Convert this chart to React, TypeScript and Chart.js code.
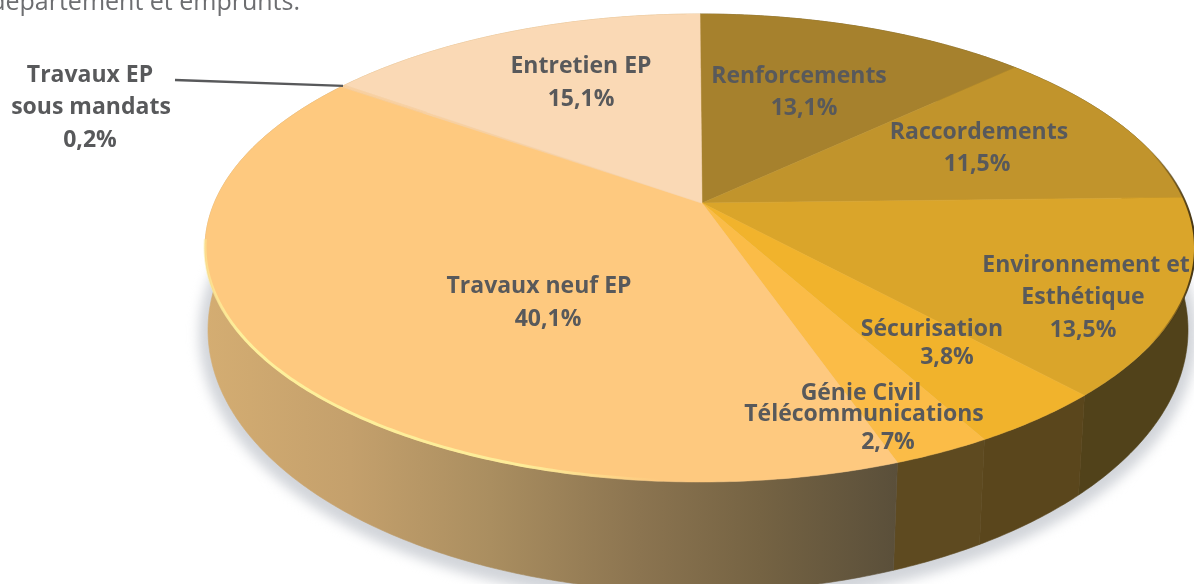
import React, { useEffect, useRef } from "react";
import { Chart, registerables } from "chart.js";

Chart.register(...registerables);

const categories = [
  "Renforcements",
  "Raccordements",
  "Environnement et\nEsthétique",
  "Sécurisation",
  "Génie Civil\nTélécommunications",
  "Travaux neuf EP",
  "Travaux EP\nsous mandats",
  "Entretien EP",
];
const shares = [13.1, 11.5, 13.5, 3.8, 2.7, 40.1, 0.2, 15.1];
const topColors = ["#a6812d", "#c1942c", "#daa52a", "#f1b32c", "#fbbc47", "#fec97f", "#f8d0a0", "#fad9b5"];
const wallColors = ["#6f5a20", "#5a4a1c", "#51421a", "#5a461c", "#5e4a20", "#8a7350", "#d4ad72", "#d4ad72"];
const neufWallStops: [number, string][] = [
  [205, "#d4ad72"],
  [350, "#c4a06c"],
  [490, "#aa8e60"],
  [640, "#8b7450"],
  [760, "#756343"],
  [897, "#5a4f3a"],
];
// [x, y] of the centre of each text line, one list per slice
const labelAnchors: [number, number][][] = [
  [[799, 76], [804, 108]],
  [[979, 132], [977, 164]],
  [[1086, 265], [1083, 297], [1083, 330]],
  [[932, 329], [947, 357]],
  [[861, 393], [864, 414], [888, 442]],
  [[539, 286], [548, 319]],
  [[90, 75], [91, 107], [90, 140]],
  [[581, 66], [581, 99]],
];
const introText = "département et emprunts.";

const TOP = { cx: 700, cy: 248, a: 495, b: 234 };
const BOTTOM = { cx: 698, cy: 330, a: 490, b: 262 };
const APEX_SHIFT = -0.192;
const TEXT = "#58595b";
const FONT = '"Open Sans"';

// Perspective map of the unit circle on itself, moving its centre to the apex.
function project(t: number) {
  const u = Math.cos(t);
  const v = Math.sin(t);
  const s = APEX_SHIFT;
  const d = 1 + s * v;
  return { u: (u * Math.sqrt(1 - s * s)) / d, v: (v + s) / d };
}
const on = (e: typeof TOP, t: number) => {
  const p = project(t);
  return { x: e.cx + e.a * p.u, y: e.cy + e.b * p.v };
};
function samples(a: number, b: number) {
  const n = Math.max(2, Math.ceil((b - a) / 0.01));
  const out: number[] = [];
  for (let i = 0; i <= n; i++) out.push(a + ((b - a) * i) / n);
  return out;
}

const piePlugin = {
  id: "perspectivePie",
  beforeDatasetDraw(chart: any) {
    const { ctx } = chart;
    const arcs = chart.getDatasetMeta(0).data as any[];

    // soft ground shadow
    ctx.save();
    ctx.filter = "blur(6px)";
    ctx.fillStyle = "#d2d5da";
    ctx.beginPath();
    ctx.ellipse(BOTTOM.cx, BOTTOM.cy + 4, BOTTOM.a + 9, BOTTOM.b + 9, 0, 0, Math.PI * 2);
    ctx.fill();
    ctx.restore();

    // walls
    arcs.forEach((arc, i) => {
      const ts = samples(arc.startAngle, arc.endAngle);
      ctx.beginPath();
      ts.forEach((t, k) => {
        const p = on(TOP, t);
        k ? ctx.lineTo(p.x, p.y) : ctx.moveTo(p.x, p.y);
      });
      [...ts].reverse().forEach((t) => {
        const p = on(BOTTOM, t);
        ctx.lineTo(p.x, p.y);
      });
      ctx.closePath();
      let fill: any = wallColors[i];
      if (i === 5) {
        const g = ctx.createLinearGradient(205, 0, 897, 0);
        neufWallStops.forEach(([x, c]) => g.addColorStop((x - 205) / 692, c));
        fill = g;
      }
      ctx.fillStyle = fill;
      ctx.strokeStyle = fill;
      ctx.lineWidth = 0.6;
      ctx.fill();
      ctx.stroke();
    });

    // top faces
    const apex = { x: TOP.cx + 2, y: TOP.cy + TOP.b * APEX_SHIFT };
    arcs.forEach((arc, i) => {
      ctx.beginPath();
      ctx.moveTo(apex.x, apex.y);
      samples(arc.startAngle, arc.endAngle).forEach((t) => {
        const p = on(TOP, t);
        ctx.lineTo(p.x, p.y);
      });
      ctx.closePath();
      ctx.fillStyle = topColors[i];
      ctx.strokeStyle = topColors[i];
      ctx.lineWidth = 0.5;
      ctx.fill();
      ctx.stroke();
    });

    // bright rim on the large slice
    const big = arcs[5];
    const rim = ctx.createLinearGradient(205, 0, 660, 0);
    rim.addColorStop(0, "rgba(253,240,155,0.5)");
    rim.addColorStop(0.08, "rgba(253,240,155,1)");
    rim.addColorStop(0.7, "rgba(253,240,155,0.9)");
    rim.addColorStop(1, "rgba(253,240,155,0)");
    ctx.beginPath();
    samples(big.startAngle, big.endAngle).forEach((t) => {
      const p = on(TOP, t);
      if (p.y < 240 && p.x < 400) return;
      ctx.lineTo(p.x, p.y - 1);
    });
    ctx.strokeStyle = rim;
    ctx.lineWidth = 3;
    ctx.stroke();

    // dark rim on the far right
    const dark = ctx.createLinearGradient(1150, 0, 1192, 0);
    dark.addColorStop(0, "rgba(60,45,15,0)");
    dark.addColorStop(1, "rgba(60,45,15,0.9)");
    ctx.beginPath();
    samples(arcs[1].startAngle, arcs[2].endAngle).forEach((t) => {
      const p = on(TOP, t);
      if (p.x > 1150) ctx.lineTo(p.x, p.y);
    });
    ctx.strokeStyle = dark;
    ctx.lineWidth = 2;
    ctx.stroke();
    return false;
  },
  afterDatasetsDraw(chart: any) {
    const { ctx } = chart;
    ctx.save();
    // leader line of the smallest slice
    const arc = chart.getDatasetMeta(0).data[6];
    const tip = on(TOP, (arc.startAngle + arc.endAngle) / 2);
    ctx.strokeStyle = TEXT;
    ctx.lineWidth = 2.4;
    ctx.beginPath();
    ctx.moveTo(175, 80);
    ctx.lineTo(tip.x, tip.y);
    ctx.stroke();

    ctx.fillStyle = TEXT;
    ctx.textAlign = "center";
    ctx.textBaseline = "middle";
    ctx.font = `700 23px ${FONT}`;
    categories.forEach((c, i) => {
      const lines = [...c.split("\n"), shares[i].toFixed(1).replace(".", ",") + "%"];
      lines.forEach((line, k) => {
        const [x, y] = labelAnchors[i][k];
        ctx.fillText(line, x, y);
      });
    });
    ctx.textAlign = "right";
    ctx.textBaseline = "alphabetic";
    ctx.font = `400 25px ${FONT}`;
    ctx.fillStyle = "#6d6e71";
    ctx.fillText(introText, 300, 10);
    ctx.restore();
  },
};

export default function App() {
  const ref = useRef<HTMLCanvasElement>(null);
  useEffect(() => {
    const chart = new Chart(ref.current!, {
      type: "pie",
      data: {
        labels: categories,
        datasets: [{ data: shares, backgroundColor: topColors, borderWidth: 0 }],
      },
      options: {
        animation: false,
        responsive: false,
        plugins: { legend: { display: false }, tooltip: { enabled: false } },
      },
      plugins: [piePlugin],
    });
    return () => chart.destroy();
  }, []);
  return (
    <div style={{ position: "fixed", left: 0, top: 0, width: 1194, height: 584, background: "#fff" }}>
      <canvas ref={ref} width={1194} height={584} style={{ display: "block" }} />
    </div>
  );
}
